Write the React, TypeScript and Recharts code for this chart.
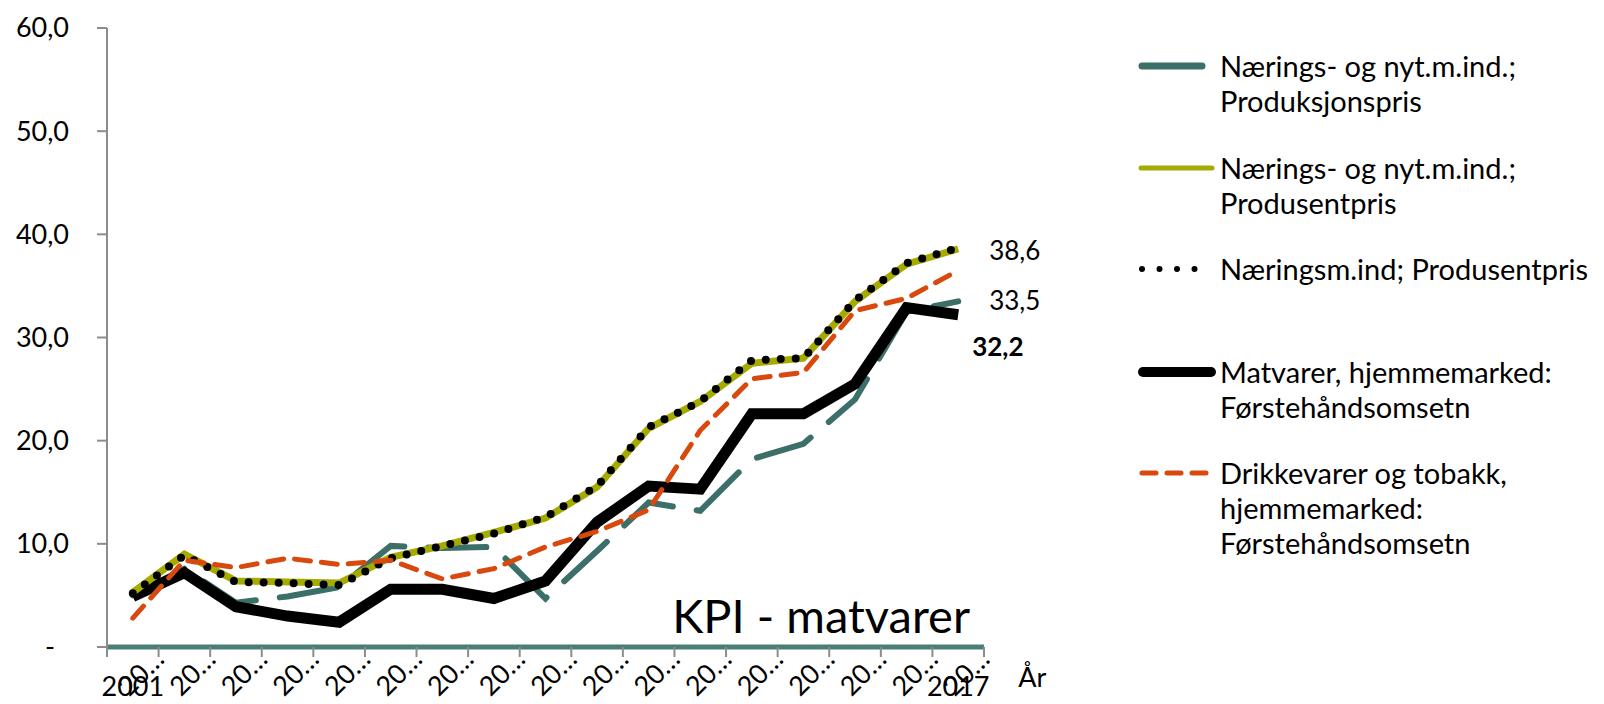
import React from 'react';
import { LineChart, Line, XAxis, YAxis, ReferenceLine } from 'recharts';

const YEARS = ['2001', '2002', '2003', '2004', '2005', '2006', '2007', '2008', '2009', '2010', '2011', '2012', '2013', '2014', '2015', '2016', '2017'];

// Nærings- og nyt.m.ind.; Produksjonspris
const produksjonspris = [5.0, 7.6, 4.3, 4.9, 5.8, 9.8, 9.6, 9.7, 4.7, 9.3, 14.0, 13.2, 18.2, 19.7, 24.0, 32.5, 33.5];
// Nærings- og nyt.m.ind.; Produsentpris
const produsentpris = [5.3, 9.0, 6.4, 6.3, 6.2, 8.7, 9.8, 11.1, 12.5, 15.5, 21.2, 23.8, 27.5, 28.0, 33.5, 37.1, 38.6];
// Næringsm.ind; Produsentpris
const naeringsmProdusentpris = [5.2, 8.9, 6.3, 6.2, 6.0, 8.6, 9.8, 11.0, 12.6, 15.6, 21.3, 23.8, 27.8, 28.0, 33.6, 37.2, 38.7];
// Matvarer, hjemmemarked: Førstehåndsomsetn
const matvarer = [4.9, 7.2, 3.9, 3.0, 2.4, 5.6, 5.6, 4.7, 6.4, 12.1, 15.6, 15.3, 22.6, 22.6, 25.5, 32.9, 32.2];
// Drikkevarer og tobakk, hjemmemarked: Førstehåndsomsetn
const drikkevarer = [2.8, 8.4, 7.7, 8.6, 8.0, 8.4, 6.6, 7.6, 9.7, 11.2, 13.3, 21.0, 26.0, 26.6, 32.6, 33.8, 36.5];

const Y_TICKS = [0, 10, 20, 30, 40, 50, 60];

const data = YEARS.map((year, i) => ({
  year,
  produksjonspris: produksjonspris[i],
  produsentpris: produsentpris[i],
  naeringsm: naeringsmProdusentpris[i],
  matvarer: matvarer[i],
  drikkevarer: drikkevarer[i],
}));

const FONT = 'Lato, "Open Sans", sans-serif';
const TEAL = '#3b6f67';
const GREEN = '#a5ab00';
const ORANGE = '#d9480d';
const AXIS_GRAY = '#8c8c8c';

const PLOT_LEFT = 107;
const PLOT_RIGHT = 984;
const HALF = (PLOT_RIGHT - PLOT_LEFT) / YEARS.length / 2;

const fmt = (v: number) => v.toFixed(1).replace('.', ',');

const YTick = (props: any) => {
  const { x, y, payload } = props;
  if (payload.value === 0) {
    return (
      <text x={50} y={y} dy="0.35em" textAnchor="middle" fontSize={27} fontFamily={FONT} fill="#000">-</text>
    );
  }
  return (
    <text x={x} y={y} dy="0.35em" textAnchor="end" fontSize={27} fontFamily={FONT} fill="#000">
      {fmt(payload.value)}
    </text>
  );
};

const XTick = (props: any) => {
  const { x, y, payload, index } = props;
  const last = index === YEARS.length - 1;
  const tx = x + 33;
  const ty = y + 14;
  return (
    <g>
      {index === 0 && <line x1={x - HALF} y1={y} x2={x - HALF} y2={y + 10} stroke={AXIS_GRAY} strokeWidth={2} />}
      <line x1={x + HALF} y1={y} x2={x + HALF} y2={y + 10} stroke={AXIS_GRAY} strokeWidth={2} />
      <text x={tx} y={ty} textAnchor="end" fontSize={27} fontFamily={FONT} fill="#000" transform={`rotate(-45 ${tx} ${ty})`}>
        20…
      </text>
      {(index === 0 || last) && (
        <text x={x} y={y + 49} textAnchor="middle" fontSize={27} fontFamily={FONT} fill="#000">
          {payload.value}
        </text>
      )}
      {last && (
        <text x={x + 60} y={y + 40} textAnchor="start" fontSize={27} fontFamily={FONT} fill="#000">År</text>
      )}
    </g>
  );
};

const endLabel = (dy: number, bold: boolean, dx: number) => (props: any) => {
  const { x, y, index, value } = props;
  if (index !== YEARS.length - 1) return <g />;
  return (
    <text x={x + dx} y={y + dy} dy="0.35em" fontSize={26} fontFamily={FONT} fontWeight={bold ? 700 : 400} fill="#000">
      {fmt(value)}
    </text>
  );
};

const legendItems = [
  { lines: ['Nærings- og nyt.m.ind.;', 'Produksjonspris'], top: 48, swatch: 'teal' },
  { lines: ['Nærings- og nyt.m.ind.;', 'Produsentpris'], top: 150, swatch: 'green' },
  { lines: ['Næringsm.ind; Produsentpris'], top: 251, swatch: 'dots' },
  { lines: ['Matvarer, hjemmemarked:', 'Førstehåndsomsetn'], top: 354, swatch: 'black' },
  { lines: ['Drikkevarer og tobakk,', 'hjemmemarked:', 'Førstehåndsomsetn'], top: 455, swatch: 'orange' },
];

const Swatch = ({ kind }: { kind: string }) => {
  const y = 18;
  let el: React.ReactNode = null;
  if (kind === 'teal') el = <line x1={4} y1={y} x2={64} y2={y} stroke={TEAL} strokeWidth={7} strokeLinecap="round" />;
  if (kind === 'green') el = <line x1={3} y1={y} x2={74} y2={y} stroke={GREEN} strokeWidth={5} strokeLinecap="round" />;
  if (kind === 'dots') el = <line x1={4} y1={y} x2={74} y2={y} stroke="#000" strokeWidth={6} strokeLinecap="round" strokeDasharray="0 17.5" />;
  if (kind === 'black') el = <line x1={5} y1={y} x2={73} y2={y} stroke="#000" strokeWidth={10} strokeLinecap="round" />;
  if (kind === 'orange') el = <line x1={4} y1={y} x2={68} y2={y} stroke={ORANGE} strokeWidth={5} strokeLinecap="round" strokeDasharray="14 11" />;
  return (
    <svg width={80} height={36} style={{ position: 'absolute', left: 0, top: 0 }}>
      {el}
    </svg>
  );
};

export default function App() {
  return (
    <div style={{ position: 'absolute', left: 0, top: 0, width: 1604, height: 704, background: '#fff', overflow: 'hidden' }}>
      <LineChart width={1604} height={704} data={data} margin={{ top: 28, right: 620, bottom: 0, left: 0 }}>
        <XAxis
          dataKey="year"
          interval={0}
          padding={{ left: HALF, right: HALF }}
          axisLine={false}
          tickLine={false}
          tickSize={0}
          tickMargin={0}
          height={57}
          tick={<XTick />}
        />
        <YAxis
          domain={[0, 60]}
          ticks={Y_TICKS}
          width={107}
          axisLine={{ stroke: AXIS_GRAY, strokeWidth: 2 }}
          tickLine={{ stroke: AXIS_GRAY, strokeWidth: 2 }}
          tickSize={10}
          tickMargin={28}
          tick={<YTick />}
        />
        <ReferenceLine
          y={0}
          stroke="#4a7e76"
          strokeWidth={5}
          label={{ value: 'KPI - matvarer', position: 'insideBottomRight', fontSize: 47, fontFamily: FONT, fill: '#000', offset: 14 }}
        />
        <Line
          dataKey="produksjonspris"
          name="Nærings- og nyt.m.ind.; Produksjonspris"
          stroke={TEAL}
          strokeWidth={6}
          strokeDasharray="58 24"
          strokeLinecap="round"
          dot={false}
          isAnimationActive={false}
          label={endLabel(0, false, 31)}
        />
        <Line
          dataKey="matvarer"
          name="Matvarer, hjemmemarked: Førstehåndsomsetn"
          stroke="#000"
          strokeWidth={11}
          strokeLinejoin="miter"
          dot={false}
          isAnimationActive={false}
          label={endLabel(32, true, 14)}
        />
        <Line
          dataKey="produsentpris"
          name="Nærings- og nyt.m.ind.; Produsentpris"
          stroke={GREEN}
          strokeWidth={7}
          dot={false}
          isAnimationActive={false}
          label={endLabel(2, false, 31)}
        />
        <Line
          dataKey="naeringsm"
          name="Næringsm.ind; Produsentpris"
          stroke="#000"
          strokeWidth={8}
          strokeDasharray="0 15"
          strokeLinecap="round"
          dot={false}
          isAnimationActive={false}
        />
        <Line
          dataKey="drikkevarer"
          name="Drikkevarer og tobakk, hjemmemarked: Førstehåndsomsetn"
          stroke={ORANGE}
          strokeWidth={5}
          strokeDasharray="16 11"
          strokeLinecap="round"
          dot={false}
          isAnimationActive={false}
        />
      </LineChart>
      {legendItems.map((item) => (
        <div key={item.lines.join(' ')} style={{ position: 'absolute', left: 1138, top: item.top, height: 120 }}>
          <Swatch kind={item.swatch} />
          <div style={{ position: 'absolute', left: 82, top: 0, fontFamily: FONT, fontSize: 29, lineHeight: '35px', whiteSpace: 'nowrap', color: '#000' }}>
            {item.lines.map((l) => (
              <div key={l}>{l}</div>
            ))}
          </div>
        </div>
      ))}
    </div>
  );
}
